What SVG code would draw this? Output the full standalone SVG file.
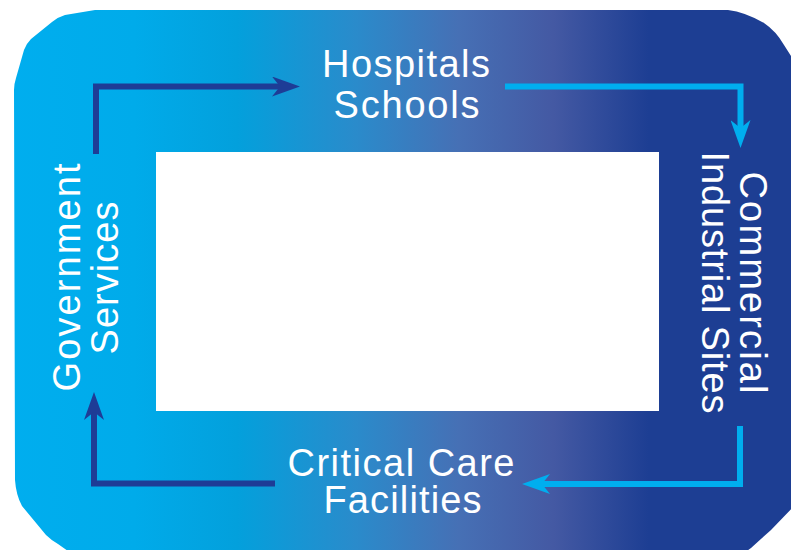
<svg xmlns="http://www.w3.org/2000/svg" width="791" height="550" viewBox="0 0 791 550">
<defs>
<linearGradient id="bg" x1="0" y1="0" x2="791" y2="0" gradientUnits="userSpaceOnUse">
<stop offset="0" stop-color="#00AEEF"/>
<stop offset="0.17" stop-color="#00ABEA"/>
<stop offset="0.30" stop-color="#03A0DC"/>
<stop offset="0.45" stop-color="#2A8BCB"/>
<stop offset="0.58" stop-color="#4670B5"/>
<stop offset="0.70" stop-color="#4459A3"/>
<stop offset="0.82" stop-color="#1D3E93"/>
<stop offset="1" stop-color="#1D3E93"/>
</linearGradient>
<marker id="arrDark" viewBox="0 0 28 20" refX="13" refY="10" markerWidth="28" markerHeight="20" markerUnits="userSpaceOnUse" orient="auto">
<path d="M0,0 L28,10 L0,20 L8,10 Z" fill="#1E3C96"/>
</marker>
<marker id="arrCyan" viewBox="0 0 28 20" refX="13" refY="10" markerWidth="28" markerHeight="20" markerUnits="userSpaceOnUse" orient="auto">
<path d="M0,0 L28,10 L0,20 L8,10 Z" fill="#00AEEF"/>
</marker>
</defs>
<style>
.lbl{font-family:"Liberation Sans",Arial,sans-serif;font-size:38px;fill:#FFFFFF;text-anchor:middle;}
.dark{fill:none;stroke:#1E3C96;stroke-width:6;stroke-linejoin:miter;}
.cyan{fill:none;stroke:#00AEEF;stroke-width:6;stroke-linejoin:miter;}
</style>
<rect x="0" y="0" width="791" height="550" fill="#FFFFFF"/>
<path id="frame" d="M95,10 L728,10 Q745,12 764,23 Q776,31 784,45 L800,70 L800,500 L771,530 L751,548 L740,556 L75,556 L58,544 Q51,540 46,535 L22,506 Q16,495 15,480 L14,90 Q14,84 16,78 L24,50 Q26,44 31,39 L52,22 Q58,17 65,15 Z" fill="url(#bg)"/>
<rect id="center" x="156" y="152" width="503" height="259" fill="#FFFFFF"/>
<g id="connectors">
<path class="dark" d="M96,154 V86.5 H285" marker-end="url(#arrDark)"/>
<path class="cyan" d="M505,86.5 H740.5 V133" marker-end="url(#arrCyan)"/>
<path class="cyan" d="M740,426 V484 H537" marker-end="url(#arrCyan)"/>
<path class="dark" d="M275,483.5 H94 V407" marker-end="url(#arrDark)"/>
</g>
<g id="node-hospitals">
<text class="lbl" x="406" y="77" textLength="168" lengthAdjust="spacing">Hospitals</text>
<text class="lbl" x="406.5" y="118" textLength="146" lengthAdjust="spacing">Schools</text>
</g>
<g id="node-commercial">
<text class="lbl" transform="translate(740,282.5) rotate(90)" x="0" y="0" textLength="222" lengthAdjust="spacing">Commercial</text>
<text class="lbl" transform="translate(702,282.5) rotate(90)" x="0" y="0" textLength="262" lengthAdjust="spacing">Industrial Sites</text>
</g>
<g id="node-critical">
<text class="lbl" x="401" y="475.5" textLength="227" lengthAdjust="spacing">Critical Care</text>
<text class="lbl" x="402.5" y="513" textLength="158" lengthAdjust="spacing">Facilities</text>
</g>
<g id="node-government">
<text class="lbl" transform="translate(79.5,277.5) rotate(-90)" x="0" y="0" textLength="228" lengthAdjust="spacing">Government</text>
<text class="lbl" transform="translate(118,278) rotate(-90)" x="0" y="0" textLength="153" lengthAdjust="spacing">Services</text>
</g>
</svg>
